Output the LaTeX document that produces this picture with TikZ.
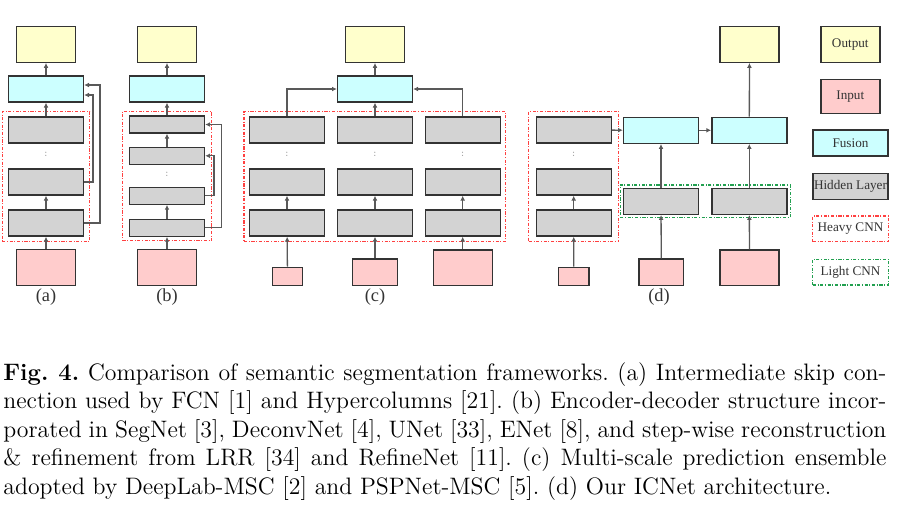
\documentclass[tikz,border=0pt]{standalone}
\usepackage{fontspec}
\usepackage{tikz}
\usetikzlibrary{arrows.meta, positioning, fit}
\newfontfamily\boxfont{Liberation Serif}
\definecolor{outcol}{HTML}{FFFFCC}
\definecolor{incol}{HTML}{FFCCCC}
\definecolor{fuscol}{HTML}{CCFFFF}
\definecolor{hidcol}{HTML}{D3D3D3}
\definecolor{edgecol}{HTML}{333333}
\definecolor{heavycol}{HTML}{FF4040}
\definecolor{lightcol}{HTML}{22A050}
\tikzstyle{plainbox} = [rectangle, draw=edgecol, line width=0.7pt, inner sep=0pt, font=\boxfont\fontsize{6.6}{8}\selectfont, text=edgecol]
\tikzstyle{outbox} = [plainbox, fill=outcol, minimum width=29.5pt, minimum height=17.75pt]
\tikzstyle{inbox} = [plainbox, fill=incol, minimum width=29.5pt, minimum height=17.75pt]
\tikzstyle{inmid} = [plainbox, fill=incol, minimum width=22.3pt, minimum height=13.15pt]
\tikzstyle{insmall} = [plainbox, fill=incol, minimum width=15.2pt, minimum height=9pt]
\tikzstyle{fusbox} = [plainbox, fill=fuscol, minimum width=37.5pt, minimum height=13pt]
\tikzstyle{hidbox} = [plainbox, fill=hidcol, minimum width=37.5pt, minimum height=13pt]
\tikzstyle{hidthin} = [hidbox, minimum height=8.5pt]
\tikzstyle{cnnframe} = [rectangle, line width=0.55pt, dash pattern=on 1.6pt off 0.8pt on 0.5pt off 0.8pt]
\tikzstyle{heavycnn} = [cnnframe, draw=heavycol, inner sep=2.5pt]
\tikzstyle{lightcnn} = [cnnframe, draw=lightcol, inner sep=1.3pt]
\tikzstyle{legtext} = [font=\boxfont\fontsize{6.6}{8}\selectfont, text=edgecol, minimum width=37.8pt, minimum height=12.8pt, inner sep=0pt]
\tikzstyle{dotmark} = [font=\fontsize{5}{5}\selectfont, text=black!40, inner sep=0pt]
\tikzstyle{sublabel} = [font=\boxfont\fontsize{9.2}{10}\selectfont, text=edgecol, inner sep=0pt]
\tikzstyle{capline} = [anchor=base west, inner sep=0pt, font=\fontsize{11.9}{14}\selectfont\frenchspacing]
\tikzstyle{arrow} = [line width=0.65pt, draw=black!65, -{Latex[length=2.4pt, width=2.4pt]}]

\begin{document}
\begin{tikzpicture}[x=0.5pt, y=-0.5pt]
\useasboundingbox (0,0) rectangle (900,510);

% (a) skip connections
\node (a_out) [outbox] at (46,44.5) {};
\node (a_fus) [fusbox] at (46,89) {};
\node (a_h1) [hidbox] at (46,130) {};
\node (a_dots) [dotmark] at (46,154) {:};
\node (a_h2) [hidbox] at (46,182) {};
\node (a_h3) [hidbox] at (46,223) {};
\node (a_in) [inbox] at (46,267.5) {};
\node (a_cnn) [heavycnn, inner xsep=2.8pt, inner ysep=2.4pt, fit=(a_h1)(a_h3)] {};
\node (a_lab) [sublabel] at (46,297) {(a)};

\draw [arrow] (a_fus) -- (a_out);
\draw [arrow] (a_h1) -- (a_fus);
\draw [arrow] (a_h3) -- (a_h2);
\draw [arrow] (a_in) -- (a_h3);
\draw [arrow] (a_h2.east) -- ++(8.7,0) |- ([yshift=-3pt]a_fus.east);
\draw [arrow] (a_h3.east) -- ++(15.7,0) |- ([yshift=2pt]a_fus.east);

% (b) encoder-decoder
\node (b_out) [outbox] at (167,44.5) {};
\node (b_fus) [fusbox] at (167,89) {};
\node (b_h1) [hidthin] at (167,124.5) {};
\node (b_h2) [hidthin] at (167,155.8) {};
\node (b_dots) [dotmark] at (167,174) {:};
\node (b_h3) [hidthin] at (167,195.7) {};
\node (b_h4) [hidthin] at (167,227.7) {};
\node (b_in) [inbox] at (167,267.5) {};
\node (b_cnn) [heavycnn, inner xsep=3.2pt, inner ysep=2pt, fit=(b_h1)(b_h4)] {};
\node (b_lab) [sublabel] at (167,297) {(b)};

\draw [arrow] (b_fus) -- (b_out);
\draw [arrow] (b_h1) -- (b_fus);
\draw [arrow] (b_h2) -- (b_h1);
\draw [arrow] (b_h4) -- (b_h3);
\draw [arrow] (b_in) -- (b_h4);
\draw [arrow] (b_h4.east) -- ++(16.4,0) |- (b_h1.east);
\draw [arrow] (b_h3.east) -- ++(8.7,0) |- (b_h2.east);

% (c) multi-scale ensemble
\node (c_out) [outbox] at (375,44.5) {};
\node (c_fus) [fusbox] at (375,89) {};
\node (c1_h1) [hidbox] at (287,130) {};
\node (c1_dots) [dotmark] at (287,154) {:};
\node (c1_h2) [hidbox] at (287,182) {};
\node (c1_h3) [hidbox] at (287,223) {};
\node (c1_in) [insmall] at (287.5,276.3) {};
\node (c2_h1) [hidbox] at (375,130) {};
\node (c2_dots) [dotmark] at (375,154) {:};
\node (c2_h2) [hidbox] at (375,182) {};
\node (c2_h3) [hidbox] at (375,223) {};
\node (c2_in) [inmid] at (375,272.2) {};
\node (c3_h1) [hidbox] at (462.7,130) {};
\node (c3_dots) [dotmark] at (462.7,154) {:};
\node (c3_h2) [hidbox] at (462.7,182) {};
\node (c3_h3) [hidbox] at (462.7,223) {};
\node (c3_in) [inbox] at (462.7,267.7) {};
\node (c_cnn) [heavycnn, inner xsep=2.4pt, inner ysep=2.4pt, fit=(c1_h1)(c3_h3)] {};
\node (c_lab) [sublabel] at (375,297) {(c)};

\draw [arrow] (c_fus) -- (c_out);
\draw [arrow] (c2_h1) -- (c_fus);
\draw [arrow] (c1_h1) |- (c_fus);
\draw [arrow] (c3_h1) |- (c_fus);
\draw [arrow] (c1_h3) -- (c1_h2);
\draw [arrow] (c2_h3) -- (c2_h2);
\draw [arrow] (c3_h3) -- (c3_h2);
\draw [arrow] (c1_in) -- (c1_h3);
\draw [arrow] (c2_in) -- (c2_h3);
\draw [arrow] (c3_in) -- (c3_h3);

% (d) ICNet
\node (d_h1) [hidbox] at (573.7,130) {};
\node (d_dots) [dotmark] at (573.7,154) {:};
\node (d_h2) [hidbox] at (573.7,182) {};
\node (d_h3) [hidbox] at (573.7,223) {};
\node (d_in1) [insmall] at (573.8,276.3) {};
\node (d_fus1) [fusbox] at (661,130.3) {};
\node (d_fus2) [fusbox] at (749.3,130.3) {};
\node (d_out) [outbox] at (749.5,44.5) {};
\node (d_l1) [hidbox] at (661,201.3) {};
\node (d_l2) [hidbox] at (749.3,201.3) {};
\node (d_in2) [inmid] at (661.3,272.2) {};
\node (d_in3) [inbox] at (749.5,267.7) {};
\node (d_cnn) [heavycnn, inner xsep=3.4pt, fit=(d_h1)(d_h3)] {};
\node (d_light) [lightcnn, fit=(d_l1)(d_l2)] {};
\node (d_lab) [sublabel] at (659,297) {(d)};

\draw [arrow] (d_h3) -- (d_h2);
\draw [arrow] (d_in1) -- (d_h3);
\draw [arrow] (d_h1) -- (d_fus1);
\draw [arrow] (d_fus1) -- (d_fus2);
\draw [arrow] (d_fus2) -- (d_out);
\draw [arrow] (d_l1) -- (d_fus1);
\draw [arrow] (d_l2) -- (d_fus2);
\draw [arrow] (d_in2) -- (d_l1);
\draw [arrow] (d_in3) -- (d_l2);

% legend
\node (leg_out) [outbox] at (850.3,44.5) {Output};
\node (leg_in) [inbox, minimum height=17pt] at (850.3,96.3) {Input};
\node (leg_fus) [fusbox] at (850.5,143) {Fusion};
\node (leg_hid) [hidbox] at (850.5,186.3) {Hidden Layer};
\node (leg_heavy) [heavycnn, legtext] at (850.5,228.8) {Heavy CNN};
\node (leg_light) [lightcnn, legtext] at (850.5,272.2) {Light CNN};

% caption
\node (cap1) [capline] at (3,380) {\makebox[441.5pt][s]{\textbf{Fig.~4.} Comparison of semantic segmentation frameworks. (a) Intermediate skip con-}};
\node (cap2) [capline] at (3,408.5) {\makebox[441.5pt][s]{nection used by FCN [1] and Hypercolumns [21]. (b) Encoder-decoder structure incor-}};
\node (cap3) [capline] at (3,437) {\makebox[441.5pt][s]{porated in SegNet [3], DeconvNet [4], UNet [33], ENet [8], and step-wise reconstruction}};
\node (cap4) [capline] at (3,465.5) {\makebox[441.5pt][s]{\& refinement from LRR [34] and RefineNet [11]. (c) Multi-scale prediction ensemble}};
\node (cap5) [capline] at (3,494) {adopted by DeepLab-MSC [2] and PSPNet-MSC [5]. (d) Our ICNet architecture.};

\end{tikzpicture}
\end{document}
